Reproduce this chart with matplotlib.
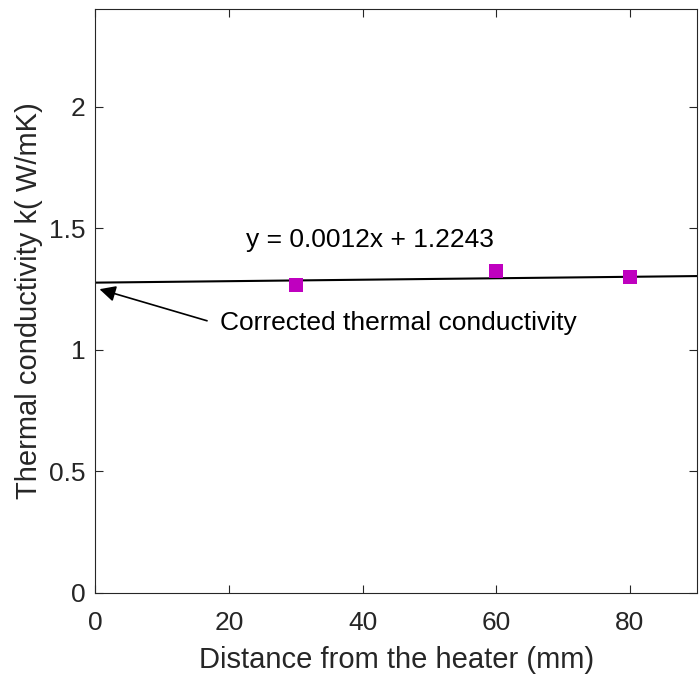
import matplotlib
matplotlib.use('Agg')
import matplotlib.pyplot as plt

# measured points
distance = [30, 60, 80]
conductivity = [1.266, 1.324, 1.300]

# fitted line as drawn
line_x = [0, 90]
line_y = [1.276, 1.303]

fit_label = 'y = 0.0012x + 1.2243'
note_label = 'Corrected thermal conductivity'

xticks = [0, 20, 40, 60, 80]
yticks = [0, 0.5, 1, 1.5, 2]

plt.rcParams['font.family'] = ['Liberation Sans', 'DejaVu Sans']

fig = plt.figure(figsize=(6.99, 6.83), dpi=100)
ax = fig.add_axes([0.1366, 0.1322, 0.8601, 0.8539])

ax.plot(line_x, line_y, color='black', lw=1.5)
ax.plot(distance, conductivity, 's', color='#bf00bf', markersize=9.5, markeredgewidth=0)

ax.text(22.5, 1.452, fit_label, fontsize=19, va='center', ha='left')
ax.text(18.7, 1.11, note_label, fontsize=19, va='center', ha='left')
ax.annotate('', xy=(0.6, 1.249), xytext=(16.7, 1.119),
            arrowprops=dict(arrowstyle='-|>', color='black', lw=1.2,
                            mutation_scale=24, shrinkA=0, shrinkB=0))

ax.set_xlim(0, 90)
ax.set_ylim(0, 2.4)
ax.set_xticks(xticks)
ax.set_yticks(yticks)
ax.set_yticklabels(['0', '0.5', '1', '1.5', '2'])
ax.tick_params(direction='in', top=True, right=True, length=6, width=0.8,
               labelsize=19, colors='#262626', pad=7)
ax.tick_params(axis='x', pad=13)
for s in ax.spines.values():
    s.set_color('#262626')
    s.set_linewidth(0.8)

ax.set_xlabel('Distance from the heater (mm)', fontsize=21, color='#262626', labelpad=8)
ax.set_ylabel('Thermal conductivity k( W/mK)', fontsize=21, color='#262626', labelpad=4.5)

fig.savefig('out.png', dpi=100)
